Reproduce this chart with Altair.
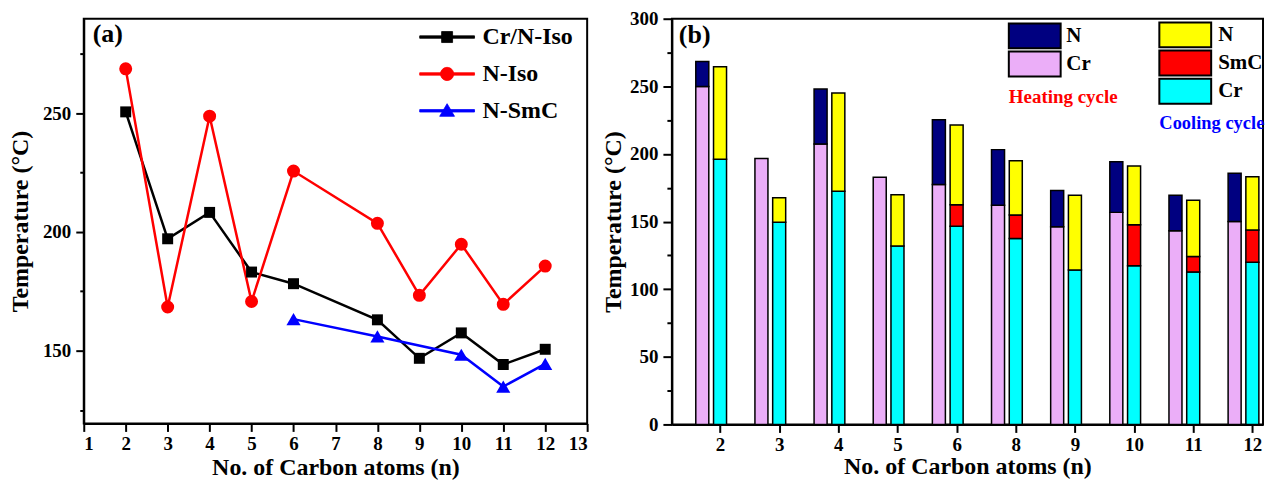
import altair as alt
import pandas as pd

# ---------------- Panel (a) data ----------------
n_a = [2, 3, 4, 5, 6, 8, 9, 10, 11, 12]
cr_n_iso = [250.5, 197.1, 208.2, 183.1, 178.2, 163.0, 146.8, 157.5, 144.2, 150.6]
n_iso = [268.6, 168.4, 248.7, 170.7, 225.6, 203.6, 173.3, 194.8, 169.5, 185.6]
n_smc_n = [6, 8, 10, 11, 12]
n_smc = [163.3, 156.0, 148.3, 134.9, 144.5]

# ---------------- Panel (b) data ----------------
carbon_labels = ["2", "3", "4", "5", "6", "8", "9", "10", "11", "12"]
heat_cr = [249.8, 196.6, 207.4, 182.7, 177.4, 162.1, 146.1, 156.8, 143.2, 150.0]
heat_n = [268.3, None, 248.0, None, 225.3, 203.2, 173.0, 194.3, 169.4, 185.8]
cool_cr = [196.0, 149.5, 172.5, 131.9, 146.6, 137.4, 114.2, 117.3, 112.8, 120.0]
cool_smc = [None, None, None, None, 162.4, 154.9, None, 147.6, 124.1, 143.7]
cool_n = [264.5, 167.7, 245.1, 169.9, 221.4, 195.0, 169.4, 191.1, 165.7, 183.2]

FONT = "Liberation Serif"

# ---------- build tables ----------
rows_a = []
for s, ns, vs in [("Cr/N-Iso", n_a, cr_n_iso), ("N-Iso", n_a, n_iso), ("N-SmC", n_smc_n, n_smc)]:
    for n, v in zip(ns, vs):
        rows_a.append({"series": s, "n": n, "T": v})
df_a = pd.DataFrame(rows_a)

rows_h, rows_c = [], []
for i in range(len(carbon_labels)):
    rows_h.append({"idx": i, "seg": "Cr", "lo": 0, "hi": heat_cr[i]})
    if heat_n[i] is not None:
        rows_h.append({"idx": i, "seg": "N", "lo": heat_cr[i], "hi": heat_n[i]})
    rows_c.append({"idx": i, "seg": "Cr", "lo": 0, "hi": cool_cr[i]})
    base = cool_cr[i]
    if cool_smc[i] is not None:
        rows_c.append({"idx": i, "seg": "SmC", "lo": cool_cr[i], "hi": cool_smc[i]})
        base = cool_smc[i]
    rows_c.append({"idx": i, "seg": "N", "lo": base, "hi": cool_n[i]})
df_h = pd.DataFrame(rows_h)
df_c = pd.DataFrame(rows_c)

# ---------- panel (a) ----------
series_dom = ["Cr/N-Iso", "N-Iso", "N-SmC"]
series_col = ["#000000", "#FF0000", "#0000FF"]
series_shape = ["square", "circle", "triangle-up"]
series_size = [121, 170, 200]

LINE = "M-5,-0.22H5V0.22H-5Z"
shape_expr = (
    "datum.value === 'Cr/N-Iso' ? '" + LINE + "M-1,-1H1V1H-1Z' : "
    "datum.value === 'N-Iso' ? '" + LINE + "M1.2,0A1.2,1.2,0,1,1,-1.2,0A1.2,1.2,0,1,1,1.2,0Z' : "
    "'" + LINE + "M0,-1.3L1.35,1L-1.35,1Z'"
)
col_expr = "datum.value === 'Cr/N-Iso' ? '#000000' : datum.value === 'N-Iso' ? '#FF0000' : '#0000FF'"

legend_a = alt.Legend(
    title=None, orient="none", legendX=337, legendY=6.4, padding=0,
    labelFont=FONT, labelFontSize=24, labelFontWeight="bold", labelColor="black",
    symbolSize=121, symbolOffset=15.5, labelOffset=23.5, rowPadding=13,
    symbolType={"expr": shape_expr},
    symbolFillColor={"expr": col_expr},
    symbolStrokeColor={"expr": col_expr},
    symbolStrokeWidth=0.8, symbolOpacity=1,
)

color_a = alt.Color("series:N", scale=alt.Scale(domain=series_dom, range=series_col), legend=legend_a)

x_a = alt.X("n:Q", scale=alt.Scale(domain=[1, 13], nice=False, zero=False),
            axis=alt.Axis(values=list(range(1, 14)), format="d", title="No. of Carbon atoms (n)",
                          tickSize=8, labelPadding=3, titlePadding=2))
y_a = alt.Y("T:Q", scale=alt.Scale(domain=[119.4, 289.7], nice=False, zero=False),
            axis=alt.Axis(values=[125, 150, 175, 200, 225, 250, 275],
                          labelExpr="datum.value % 50 === 0 ? datum.label : ''",
                          tickSize={"condition": {"test": "datum.value % 50 === 0", "value": 8}, "value": 4},
                          title="Temperature (°C)", labelPadding=5, titlePadding=9.5))

base_a = alt.Chart(df_a)
lines_a = base_a.mark_line(strokeWidth=2.5).encode(x=x_a, y=y_a, color=color_a, detail="series:N")
point_layers = []
for s, c, shp, sz in zip(series_dom, series_col, series_shape, series_size):
    point_layers.append(
        base_a.transform_filter(alt.datum.series == s)
        .mark_point(filled=True, opacity=1, shape=shp, size=sz, color=c)
        .encode(x=x_a, y=y_a)
    )
lab_a = alt.Chart(pd.DataFrame({"t": ["(a)"]})).mark_text(
    font=FONT, fontSize=26, fontWeight="bold", align="left", baseline="middle", color="black"
).encode(text="t:N", x=alt.value(9), y=alt.value(15))

panel_a = alt.layer(lines_a, *point_layers, lab_a).properties(width=505, height=406)

# ---------- panel (b) ----------
rect_path = "M-4.333,-2.083H4.333V2.083H-4.333Z"
label_expr_b = "[" + ",".join("'%s'" % s for s in carbon_labels) + "][datum.value]"

x_b = alt.X("xa:Q", scale=alt.Scale(domain=[-0.814, 9.18], nice=False, zero=False),
            axis=alt.Axis(values=list(range(len(carbon_labels))), labelExpr=label_expr_b,
                          title="No. of Carbon atoms (n)", tickSize=8, labelPadding=3, titlePadding=0))
y_b = alt.Y("lo:Q", scale=alt.Scale(domain=[0, 300], nice=False),
            axis=alt.Axis(values=list(range(0, 301, 25)),
                          labelExpr="datum.value % 50 === 0 ? datum.label : ''",
                          tickSize={"condition": {"test": "datum.value % 50 === 0", "value": 9}, "value": 5},
                          title="Temperature (°C)", labelPadding=5, titlePadding=4.5))

legend_h = alt.Legend(
    title="Heating cycle", titleOrient="bottom", titleColor="#FF0000", titleFont=FONT,
    titleFontSize=19, titleFontWeight="bold", titlePadding=8, titleAnchor="start",
    orient="none", legendX=338, legendY=6.7, padding=0,
    symbolType=rect_path, symbolSize=144, symbolOffset=15.5, symbolStrokeColor="black",
    symbolStrokeWidth=2, labelOffset=21.2, rowPadding=-4.7,
    labelFont=FONT, labelFontSize=21, labelFontWeight="bold", labelColor="black",
)
legend_c = alt.Legend(
    title="Cooling cycle", titleOrient="bottom", titleColor="#0000FF", titleFont=FONT,
    titleFontSize=18.5, titleFontWeight="bold", titlePadding=6, titleAnchor="start",
    orient="none", legendX=489, legendY=5.7, padding=0,
    symbolType=rect_path, symbolSize=144, symbolOffset=15.5, symbolStrokeColor="black",
    symbolStrokeWidth=2, labelOffset=22.5, rowPadding=-4.7,
    labelFont=FONT, labelFontSize=21, labelFontWeight="bold", labelColor="black",
)

heat = alt.Chart(df_h).transform_calculate(
    xa="datum.idx - 0.30 - 0.11", xb="datum.idx - 0.30 + 0.11"
).mark_rect(stroke="black", strokeWidth=1.5).encode(
    x=x_b, x2="xb:Q", y=y_b, y2="hi:Q",
    fill=alt.Fill("seg:N", scale=alt.Scale(domain=["N", "Cr"], range=["#000080", "#EBAEF8"]), legend=legend_h),
)
cool = alt.Chart(df_c).transform_calculate(
    xa="datum.idx - 0.11", xb="datum.idx + 0.11"
).mark_rect(stroke="black", strokeWidth=1.5).encode(
    x=x_b, x2="xb:Q", y=y_b, y2="hi:Q",
    color=alt.Color("seg:N", scale=alt.Scale(domain=["N", "SmC", "Cr"],
                                             range=["#FFFF00", "#FF0000", "#00FFFF"]), legend=legend_c),
)
lab_b = alt.Chart(pd.DataFrame({"t": ["(b)"]})).mark_text(
    font=FONT, fontSize=26, fontWeight="bold", align="left", baseline="middle", color="black"
).encode(text="t:N", x=alt.value(7), y=alt.value(16))

panel_b = alt.layer(heat, cool, lab_b).resolve_scale(color="independent", fill="independent").properties(
    width=593, height=407)

chart = alt.hconcat(panel_a, panel_b, spacing=85, bounds="flush").resolve_scale(
    color="independent", fill="independent"
).configure_view(stroke="black", strokeWidth=2).configure_axis(
    labelFont=FONT, labelFontSize=19, labelFontWeight="bold", labelColor="black",
    titleFont=FONT, titleFontSize=24, titleFontWeight="bold", titleColor="black",
    domainColor="black", domainWidth=2, tickColor="black", tickWidth=2, grid=False,
).properties(background="white", padding=0)

chart.save("out.html", embed_options={"renderer": "svg", "actions": False})
